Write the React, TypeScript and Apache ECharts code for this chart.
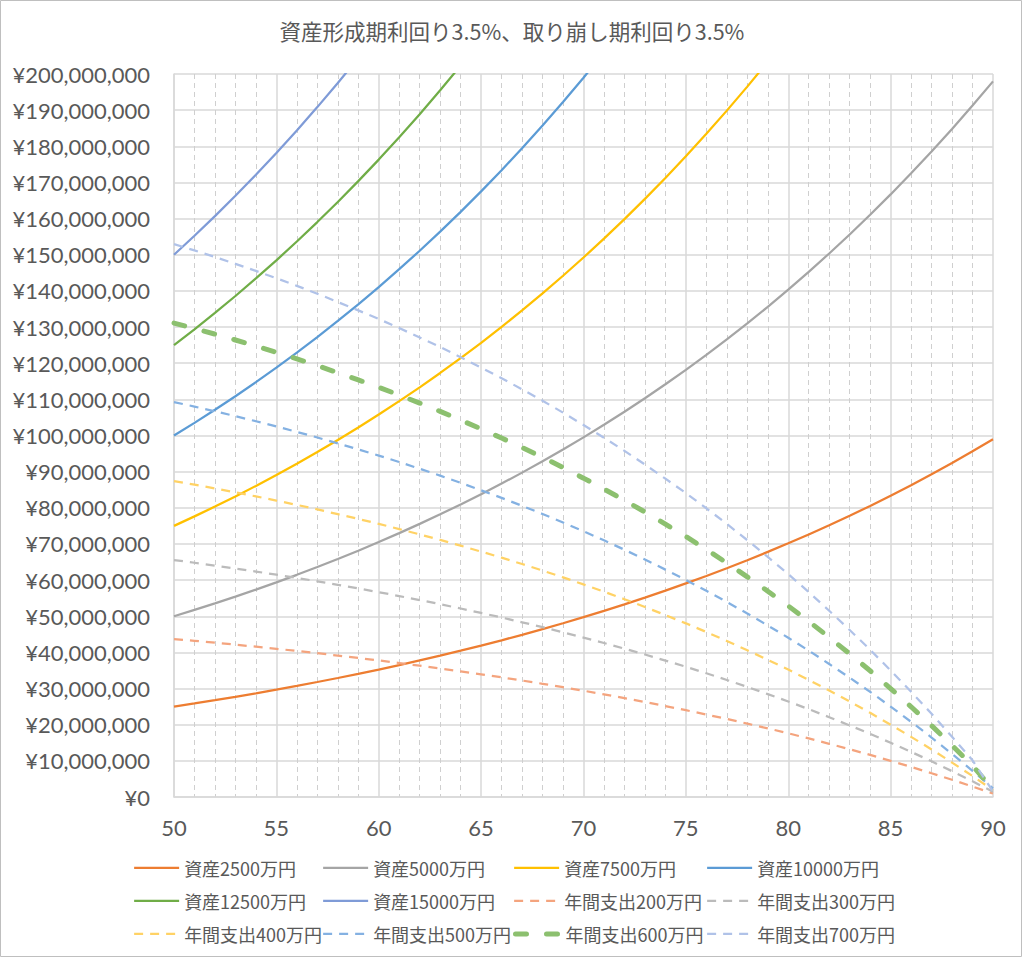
import React, { useEffect, useRef } from 'react';
import * as echarts from 'echarts';

// ages (x values)
const ages = [50, 51, 52, 53, 54, 55, 56, 57, 58, 59, 60, 61, 62, 63, 64, 65, 66, 67, 68, 69, 70,
  71, 72, 73, 74, 75, 76, 77, 78, 79, 80, 81, 82, 83, 84, 85, 86, 87, 88, 89, 90];

// values in 万円 (10,000 yen)
const asset2500 = [2500, 2588, 2678, 2772, 2869, 2969, 3073, 3181, 3292, 3407, 3526, 3650, 3778, 3910, 4047, 4188, 4335, 4487, 4644, 4806, 4974,
  5149, 5329, 5515, 5708, 5908, 6115, 6329, 6550, 6780, 7017, 7263, 7517, 7780, 8052, 8334, 8626, 8928, 9240, 9563, 9898];
const asset5000 = [5000, 5175, 5356, 5544, 5738, 5938, 6146, 6361, 6584, 6814, 7053, 7300, 7555, 7820, 8093, 8377, 8670, 8973, 9287, 9613, 9949,
  10297, 10658, 11031, 11417, 11817, 12230, 12658, 13101, 13560, 14034, 14526, 15034, 15560, 16105, 16669, 17252, 17856, 18481, 19128, 19796];
const asset7500 = [7500, 7763, 8034, 8315, 8606, 8908, 9219, 9542, 9876, 10222, 10580, 10950, 11333, 11730, 12140, 12565, 13005, 13460, 13931, 14419, 14923,
  15446, 15986, 16546, 17125, 17725, 18345, 18987, 19651, 20339];
const asset10000 = [10000, 10350, 10712, 11087, 11475, 11877, 12293, 12723, 13168, 13629, 14106, 14600, 15111, 15640, 16187, 16753, 17340, 17947, 18575, 19225, 19898, 20594];
const asset12500 = [12500, 12938, 13390, 13859, 14344, 14846, 15366, 15904, 16460, 17036, 17632, 18250, 18889, 19549, 20234];
const asset15000 = [15000, 15525, 16068, 16631, 17213, 17815, 18439, 19084, 19752, 20443];

const spend200 = [4370, 4320, 4268, 4214, 4158, 4100, 4040, 3978, 3912, 3846, 3778, 3706, 3632, 3556, 3476, 3394, 3310, 3222, 3132, 3038, 2940,
  2840, 2736, 2628, 2516, 2402, 2282, 2158, 2030, 1898, 1762, 1620, 1472, 1320, 1164, 1000, 832, 658, 476, 290, 96];
const spend300 = [6555, 6480, 6402, 6321, 6237, 6150, 6060, 5967, 5868, 5769, 5667, 5559, 5448, 5334, 5214, 5091, 4965, 4833, 4698, 4557, 4410,
  4260, 4104, 3942, 3774, 3603, 3423, 3237, 3045, 2847, 2643, 2430, 2208, 1980, 1746, 1500, 1248, 987, 714, 435, 144];
const spend400 = [8740, 8640, 8536, 8428, 8316, 8200, 8080, 7956, 7824, 7692, 7556, 7412, 7264, 7112, 6952, 6788, 6620, 6444, 6264, 6076, 5880,
  5680, 5472, 5256, 5032, 4804, 4564, 4316, 4060, 3796, 3524, 3240, 2944, 2640, 2328, 2000, 1664, 1316, 952, 580, 192];
const spend500 = [10925, 10800, 10670, 10535, 10395, 10250, 10100, 9945, 9780, 9615, 9445, 9265, 9080, 8890, 8690, 8485, 8275, 8055, 7830, 7595, 7350,
  7100, 6840, 6570, 6290, 6005, 5705, 5395, 5075, 4745, 4405, 4050, 3680, 3300, 2910, 2500, 2080, 1645, 1190, 725, 240];
const spend600 = [13110, 12960, 12804, 12642, 12474, 12300, 12120, 11934, 11736, 11538, 11334, 11118, 10896, 10668, 10428, 10182, 9930, 9666, 9396, 9114, 8820,
  8520, 8208, 7884, 7548, 7206, 6846, 6474, 6090, 5694, 5286, 4860, 4416, 3960, 3492, 3000, 2496, 1974, 1428, 870, 200];
const spend700 = [15295, 15120, 14938, 14749, 14553, 14350, 14140, 13923, 13692, 13461, 13223, 12971, 12712, 12446, 12166, 11879, 11585, 11277, 10962, 10633, 10290,
  9940, 9576, 9198, 8806, 8407, 7987, 7553, 7105, 6643, 6167, 5670, 5152, 4620, 4074, 3500, 2912, 2303, 1666, 1015, 150];

const seriesNames = [
  '資産2500万円', '資産5000万円', '資産7500万円', '資産10000万円',
  '資産12500万円', '資産15000万円', '年間支出200万円', '年間支出300万円',
  '年間支出400万円', '年間支出500万円', '年間支出600万円', '年間支出700万円',
];
const seriesValues = [asset2500, asset5000, asset7500, asset10000, asset12500, asset15000,
  spend200, spend300, spend400, spend500, spend600, spend700];

const titleText = '資産形成期利回り3.5%、取り崩し期利回り3.5%';
const xMin = 50, xMax = 90, xStep = 5;
const yMin = 0, yMax = 200000000, yStep = 10000000;

const colors = ['#ED7D31', '#A5A5A5', '#FFC000', '#5B9BD5', '#70AD47', '#7F9BD7',
  '#F4A47E', '#BBBBBB', '#FFD265', '#84B1E2', '#8CC06F', '#B0C2E8'];

const JP = '"Noto Sans CJK JP", "Noto Sans", sans-serif';
const NUM = 'Lato, "Noto Sans", sans-serif';
const TXT = '#595959';

function fmtYen(v: number) {
  return '¥' + String(v).replace(/\B(?=(\d{3})+(?!\d))/g, ',');
}

export default function App() {
  const ref = useRef<HTMLDivElement>(null);
  useEffect(() => {
    if (!ref.current) return;
    const chart = echarts.init(ref.current, undefined, { renderer: 'svg' });

    const series = seriesNames.map((name, i) => {
      const vals = seriesValues[i];
      const isSpend = i >= 6;
      const isThick = i === 10;
      return {
        name,
        type: 'line',
        data: vals.map((v, k) => [ages[k], v * 10000]),
        symbol: 'none',
        showSymbol: false,
        clip: true,
        z: 2 + i,
        lineStyle: {
          color: colors[i],
          width: isThick ? 5 : 2.25,
          type: isSpend ? (isThick ? [11, 20] : [9, 7]) : 'solid',
          cap: isThick ? 'round' : 'butt',
        },
        itemStyle: { color: colors[i] },
        emphasis: { disabled: true },
      };
    });

    const colLeft = [133, 322, 513, 706];
    const rowTop = [859, 892, 925];
    const legends = seriesNames.map((name, i) => ({
      data: [name],
      left: colLeft[i % 4],
      top: rowTop[Math.floor(i / 4)],
      padding: 0,
      itemWidth: 45,
      itemHeight: 14,
      itemStyle: { opacity: 0 },
      lineStyle: { width: 'inherit' },
      textStyle: { fontSize: 18, color: TXT, fontFamily: JP },
    }));

    chart.setOption({
      animation: false,
      backgroundColor: '#fff',
      title: {
        text: titleText,
        left: 'center',
        top: 15,
        textStyle: { fontSize: 21.5, color: TXT, fontWeight: 'normal', fontFamily: JP },
      },
      legend: legends,
      grid: { left: 174, top: 74, width: 819, height: 723, containLabel: false },
      xAxis: {
        type: 'value',
        min: xMin,
        max: xMax,
        interval: xStep,
        axisLine: { show: true, onZero: false, lineStyle: { color: '#D9D9D9', width: 1.5 } },
        axisTick: { show: false },
        minorTick: { show: false, splitNumber: 5 },
        minorSplitLine: { show: true, lineStyle: { color: '#CFCFCF', width: 1, type: [5, 4] } },
        splitLine: { show: true, lineStyle: { color: '#D9D9D9', width: 1.5 } },
        axisLabel: { fontSize: 22, color: TXT, fontFamily: NUM, margin: 19 },
      },
      yAxis: {
        type: 'value',
        min: yMin,
        max: yMax,
        interval: yStep,
        axisLine: { show: true, lineStyle: { color: '#D9D9D9', width: 1.5 } },
        axisTick: { show: false },
        splitLine: { show: true, lineStyle: { color: '#D9D9D9', width: 1.5 } },
        axisLabel: { fontSize: 22, color: TXT, fontFamily: NUM, margin: 24, formatter: (v: number) => fmtYen(v) },
      },
      graphic: [
        {
          type: 'rect',
          silent: true,
          shape: { x: 0.5, y: 0.5, width: 1021, height: 956 },
          style: { fill: 'none', stroke: '#BFBFBF', lineWidth: 1 },
        },
      ],
      series,
    });
    return () => chart.dispose();
  }, []);
  return (
    <div
      ref={ref}
      style={{ position: 'fixed', left: 0, top: 0, width: 1024, height: 959, background: '#fff' }}
    />
  );
}
